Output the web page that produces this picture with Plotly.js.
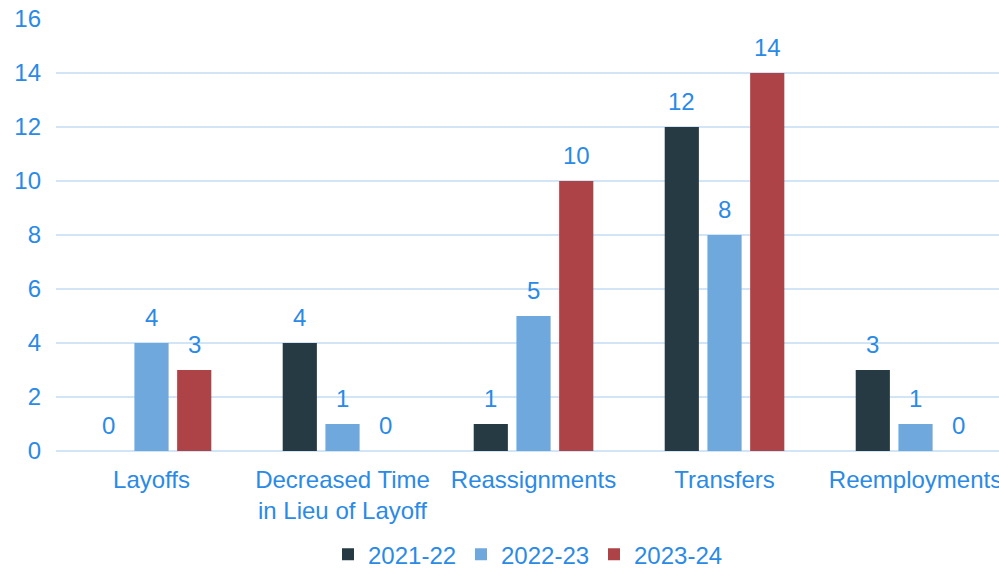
<!DOCTYPE html>
<html>
<head>
<meta charset="utf-8">
<script src="https://cdn.plot.ly/plotly-3.0.1.min.js"></script>
<style>html,body{margin:0;padding:0;background:#fff;}#chart{width:999px;height:568px;}</style>
</head>
<body>
<div id="chart"></div>
<script>
const categories = ["Layoffs", "Decreased Time<br>in Lieu of Layoff", "Reassignments", "Transfers", "Reemployments"];
const seriesNames = ["2021-22", "2022-23", "2023-24"];
const values2021 = [0, 4, 1, 12, 3];
const values2022 = [4, 1, 5, 8, 1];
const values2023 = [3, 0, 10, 14, 0];
const yTicks = [0, 2, 4, 6, 8, 10, 12, 14, 16];

const colors = ["#263a43", "#6fa8dc", "#ad4347"];
const textBlue = "#2a8ae5";
const fontFam = "'Liberation Sans', Arial, sans-serif";
const fontSize = 24;
const bargap = 0.329;
const series = [values2021, values2022, values2023];

const traces = series.map((vals, i) => ({
  type: "bar",
  name: seriesNames[i],
  x: categories,
  y: vals,
  marker: {color: colors[i], line: {width: 0}},
  hoverinfo: "none"
}));

const slot = (1 - bargap) / series.length;
const annotations = [];
series.forEach((vals, i) => {
  vals.forEach((v, j) => {
    annotations.push({
      x: j + (i - 1) * slot,
      y: v,
      xref: "x", yref: "y",
      text: String(v),
      showarrow: false,
      yanchor: "bottom",
      yshift: 10,
      font: {family: fontFam, size: fontSize, color: textBlue}
    });
  });
});

const layout = {
  width: 999, height: 568,
  margin: {l: 56, r: 0, t: 19, b: 117, autoexpand: false},
  paper_bgcolor: "#ffffff",
  plot_bgcolor: "#ffffff",
  barmode: "group",
  bargap: bargap,
  bargroupgap: 0.2,
  font: {family: fontFam, size: fontSize, color: textBlue},
  xaxis: {
    type: "category",
    range: [-0.5, 4.437],
    automargin: false,
    showgrid: false,
    showline: false,
    ticks: "",
    ticklabelstandoff: 12,
    tickfont: {family: fontFam, size: fontSize, color: textBlue},
    fixedrange: true
  },
  yaxis: {
    range: [0, 16],
    automargin: false,
    tickvals: yTicks,
    ticktext: yTicks.map(String),
    showgrid: true,
    gridcolor: "#d2e5f6",
    gridwidth: 1.5,
    zeroline: true,
    zerolinecolor: "#d2e5f6",
    zerolinewidth: 1.5,
    showline: false,
    ticks: "",
    ticklabelstandoff: 14,
    tickfont: {family: fontFam, size: fontSize, color: textBlue},
    fixedrange: true
  },
  showlegend: true,
  legend: {
    orientation: "h",
    x: 0.5, xanchor: "center",
    y: -0.24, yanchor: "middle",
    font: {family: fontFam, size: fontSize, color: textBlue},
    itemwidth: 30,
    entrywidth: 88,
    traceorder: "normal"
  },
  annotations: annotations
};

Plotly.newPlot("chart", traces, layout, {displayModeBar: false, staticPlot: true});
</script>
</body>
</html>
